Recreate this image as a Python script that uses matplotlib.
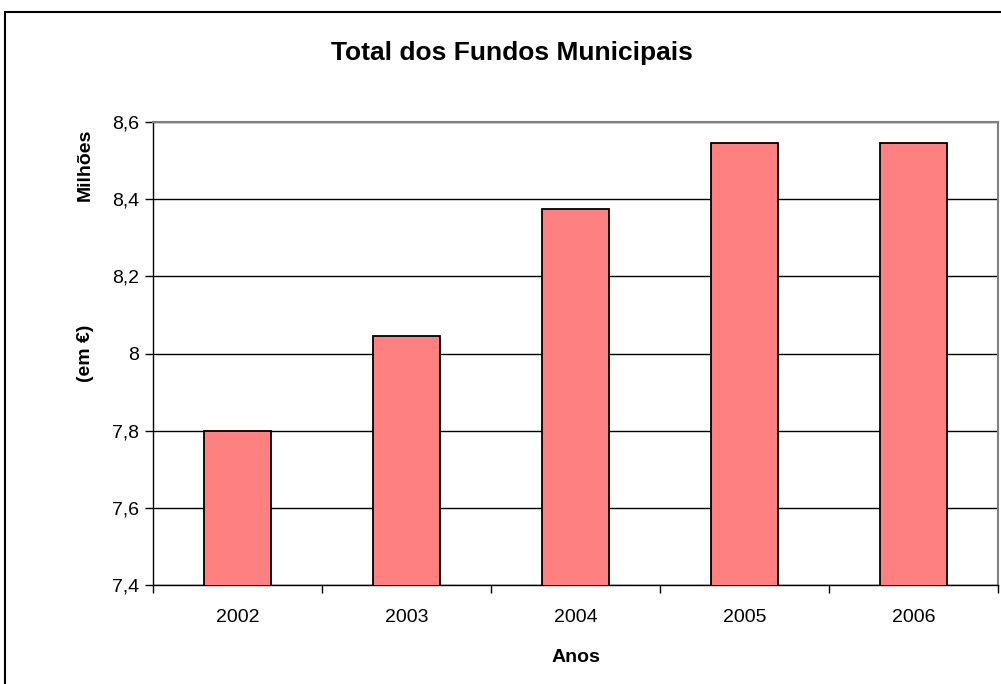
import matplotlib.pyplot as plt
import matplotlib.patches as patches
import numpy as np

# dados
anos = ['2002', '2003', '2004', '2005', '2006']
fundos = [7.80, 8.045, 8.375, 8.545, 8.545]  # milhoes de euros
yticks = [7.4, 7.6, 7.8, 8.0, 8.2, 8.4, 8.6]
ytick_labels = ['7,4', '7,6', '7,8', '8', '8,2', '8,4', '8,6']

plt.rcParams['font.family'] = ['Liberation Sans', 'DejaVu Sans']

fig = plt.figure(figsize=(10.01, 6.84), dpi=100)
ax = fig.add_axes([153 / 1001, 99 / 684, 845 / 1001, 463 / 684])

x = np.arange(len(anos))
ax.set_axisbelow(True)
ax.grid(axis='y', color='black', linewidth=1)
ax.bar(x, fundos, width=0.40, bottom=0, color='#FF8080', edgecolor='black', linewidth=1.3, zorder=3)

ax.set_ylim(7.4, 8.6)
ax.set_xlim(-0.5, len(anos) - 0.5)
ax.set_yticks(yticks)
ax.set_yticklabels(ytick_labels, fontsize=14)
ax.set_xticks(x)
ax.set_xticklabels(anos, fontsize=14)
ax.tick_params(axis='x', which='major', length=0, pad=17)
ax.set_xticks(np.arange(-0.5, len(anos), 1), minor=True)
ax.tick_params(axis='x', which='minor', length=6, width=1, direction='out')
ax.tick_params(axis='y', length=6, width=1, direction='out', pad=4)

for s in ['top', 'right']:
    ax.spines[s].set_color('#808080')
    ax.spines[s].set_linewidth(1.5)
for s in ['left', 'bottom']:
    ax.spines[s].set_color('black')
    ax.spines[s].set_linewidth(1)

ax.set_xlabel('Anos', fontsize=14, fontweight='bold', labelpad=17)

fig.text(512 / 1001, 1 - 53 / 684, 'Total dos Fundos Municipais', fontsize=19,
         fontweight='bold', ha='center', va='center')
fig.text(85 / 1001, 1 - 165 / 684, 'Milhões', fontsize=14, fontweight='bold',
         rotation=90, ha='center', va='center')
fig.text(85 / 1001, 1 - 353 / 684, '(em €)', fontsize=14, fontweight='bold',
         rotation=90, ha='center', va='center')

# moldura do grafico
fig.patches.append(patches.Rectangle((5 / 1001, -0.1), 1.2, 0.1 + (684 - 12) / 684,
                                     transform=fig.transFigure, fill=False,
                                     edgecolor='black', linewidth=1.5))

fig.savefig('out.png', dpi=100)
